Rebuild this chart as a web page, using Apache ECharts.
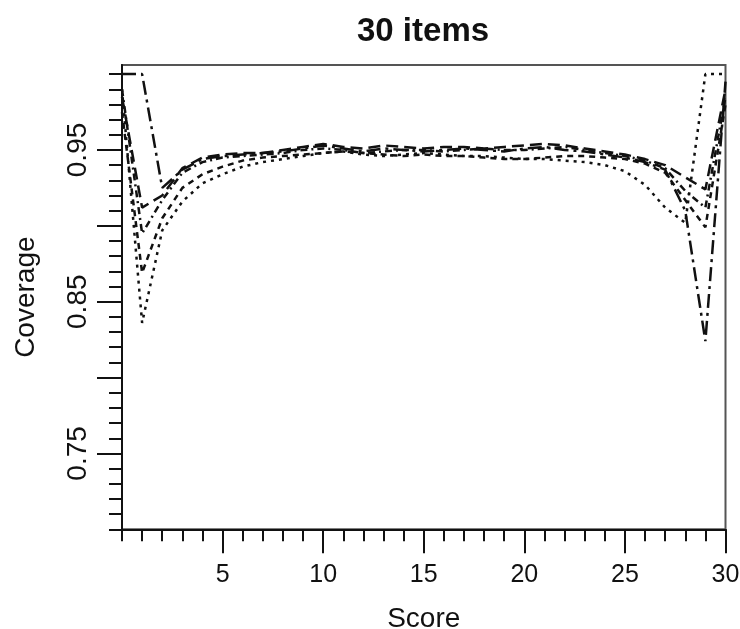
<!DOCTYPE html>
<html>
<head>
<meta charset="utf-8">
<script src="https://cdn.jsdelivr.net/npm/echarts@6/dist/echarts.min.js"></script>
<style>
  html, body { margin: 0; padding: 0; background: #fff; }
  #chart { width: 740px; height: 629px; }
</style>
</head>
<body>
<div id="chart"></div>
<script>
// Score values on the x axis
const scores = [0, 1, 2, 3, 4, 5, 6, 7, 8, 9, 10, 11, 12, 13, 14, 15,
                16, 17, 18, 19, 20, 21, 22, 23, 24, 25, 26, 27, 28, 29, 30];

// Coverage for each interval method, one value per score
const coverageA = [1.000, 1.000, 0.925, 0.937, 0.944, 0.946, 0.947, 0.948, 0.949, 0.951, 0.953,
                   0.951, 0.949, 0.951, 0.950, 0.949, 0.950, 0.951, 0.950, 0.949, 0.951,
                   0.952, 0.950, 0.949, 0.947, 0.945, 0.942, 0.937, 0.910, 0.824, 0.995];
const coverageB = [0.990, 0.836, 0.897, 0.916, 0.928, 0.934, 0.939, 0.942, 0.944, 0.946, 0.948,
                   0.949, 0.947, 0.946, 0.947, 0.948, 0.947, 0.946, 0.946, 0.945, 0.944,
                   0.944, 0.943, 0.942, 0.940, 0.936, 0.927, 0.912, 0.902, 1.000, 1.000];
const coverageC = [0.985, 0.912, 0.920, 0.938, 0.945, 0.947, 0.948, 0.948, 0.950, 0.952, 0.954,
                   0.952, 0.951, 0.953, 0.952, 0.951, 0.952, 0.952, 0.951, 0.952, 0.953,
                   0.954, 0.953, 0.951, 0.949, 0.947, 0.944, 0.940, 0.932, 0.924, 0.990];
const coverageD = [0.990, 0.895, 0.917, 0.935, 0.942, 0.945, 0.946, 0.947, 0.948, 0.950, 0.951,
                   0.950, 0.948, 0.949, 0.950, 0.950, 0.949, 0.950, 0.951, 0.950, 0.950,
                   0.951, 0.952, 0.950, 0.948, 0.946, 0.943, 0.938, 0.923, 0.912, 0.985];
const coverageE = [0.975, 0.869, 0.905, 0.925, 0.934, 0.939, 0.943, 0.945, 0.946, 0.947, 0.948,
                   0.949, 0.948, 0.947, 0.946, 0.947, 0.946, 0.946, 0.945, 0.944, 0.944,
                   0.945, 0.946, 0.946, 0.945, 0.944, 0.941, 0.935, 0.917, 0.899, 0.980];

// Tick positions and labels
const xMinorTicks = [0, 1, 2, 3, 4, 5, 6, 7, 8, 9, 10, 11, 12, 13, 14, 15,
                     16, 17, 18, 19, 20, 21, 22, 23, 24, 25, 26, 27, 28, 29, 30];
const xMajorTicks = [5, 10, 15, 20, 25, 30];
const xTickLabels = [5, 10, 15, 20, 25, 30];
const yMinorTicks = [0.70, 0.71, 0.72, 0.73, 0.74, 0.75, 0.76, 0.77, 0.78, 0.79, 0.80,
                     0.81, 0.82, 0.83, 0.84, 0.85, 0.86, 0.87, 0.88, 0.89, 0.90,
                     0.91, 0.92, 0.93, 0.94, 0.95, 0.96, 0.97, 0.98, 0.99, 1.00];
const yMajorTicks = [0.75, 0.80, 0.85, 0.90, 0.95];
const yTickLabels = [0.75, 0.85, 0.95];

const seriesList = [
  { name: 'A', values: coverageA, dash: [14, 5, 3, 5] },
  { name: 'B', values: coverageB, dash: [3, 5] },
  { name: 'C', values: coverageC, dash: [12, 6] },
  { name: 'D', values: coverageD, dash: [7, 4, 2, 4] },
  { name: 'E', values: coverageE, dash: [6, 5] }
];

const FONT = '"Liberation Sans", Arial, Helvetica, sans-serif';
const INK = '#111';
const plotRect = { left: 122, right: 14.5, top: 65, bottom: 99.7, outerBoundsMode: 'none', containLabel: false };
const X_MIN = 0, X_MAX = 30, Y_MIN = 0.70, Y_MAX = 1.006;

const chart = echarts.init(document.getElementById('chart'), null, { renderer: 'canvas' });

chart.setOption({
  animation: false,
  backgroundColor: '#fff',
  title: {
    text: '30 items',
    left: 357,
    top: 15,
    padding: 0,
    textStyle: { fontFamily: FONT, fontSize: 33, fontWeight: 'bold', color: INK }
  },
  grid: [
    Object.assign({ show: true, borderColor: '#555', borderWidth: 2, backgroundColor: 'transparent' }, plotRect),
    Object.assign({ show: false }, plotRect)
  ],
  xAxis: [
    {
      type: 'value', gridIndex: 0, min: X_MIN, max: X_MAX,
      name: 'Score', nameLocation: 'middle', nameGap: 76,
      nameTextStyle: { fontFamily: FONT, fontSize: 28, color: INK },
      axisLine: { show: true, lineStyle: { color: INK, width: 2 } },
      axisTick: { show: true, customValues: xMinorTicks, length: 12, lineStyle: { color: INK, width: 2 } },
      axisLabel: { show: false },
      splitLine: { show: false }
    },
    {
      type: 'value', gridIndex: 1, min: X_MIN, max: X_MAX,
      axisLine: { show: false },
      axisTick: { show: true, customValues: xMajorTicks, length: 24, lineStyle: { color: INK, width: 2 } },
      axisLabel: {
        show: true, customValues: xTickLabels, margin: 33,
        fontFamily: FONT, fontSize: 25, color: INK,
        formatter: v => String(v)
      },
      splitLine: { show: false }
    }
  ],
  yAxis: [
    {
      type: 'value', gridIndex: 0, min: Y_MIN, max: Y_MAX,
      name: 'Coverage', nameLocation: 'middle', nameGap: 82, nameRotate: 90,
      nameTextStyle: { fontFamily: FONT, fontSize: 28, color: INK },
      axisLine: { show: true, lineStyle: { color: INK, width: 2 } },
      axisTick: { show: true, customValues: yMinorTicks, length: 13, lineStyle: { color: INK, width: 2 } },
      axisLabel: { show: false },
      splitLine: { show: false }
    },
    {
      type: 'value', gridIndex: 1, min: Y_MIN, max: Y_MAX,
      axisLine: { show: false },
      axisTick: { show: true, customValues: yMajorTicks, length: 25, lineStyle: { color: INK, width: 2 } },
      axisLabel: {
        show: true, customValues: yTickLabels, rotate: 90, margin: 30,
        fontFamily: FONT, fontSize: 28, color: INK,
        formatter: v => v.toFixed(2)
      },
      splitLine: { show: false }
    }
  ],
  series: seriesList.map(s => ({
    name: s.name,
    type: 'line',
    xAxisIndex: 0,
    yAxisIndex: 0,
    data: scores.map((x, i) => [x, s.values[i]]),
    symbol: 'none',
    lineStyle: { color: INK, width: 2.5, type: s.dash }
  }))
});
</script>
</body>
</html>
